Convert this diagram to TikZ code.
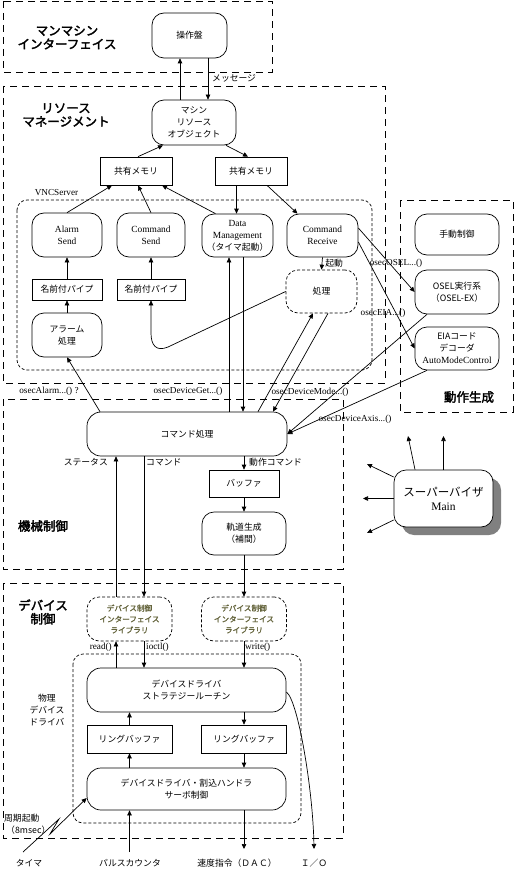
\documentclass[tikz,border=0pt]{standalone}
\usepackage{fontspec}
\setmainfont{Liberation Serif}
\newfontfamily\jp{Noto Sans CJK JP}
\newfontfamily\jpb[FakeBold=1.5]{Noto Sans CJK JP}
\newfontfamily\jpbb[FakeBold=2.5]{Noto Sans CJK JP}
\usetikzlibrary{arrows.meta,shadows}
\definecolor{libtxt}{RGB}{100,100,60}
\definecolor{shadowgray}{RGB}{128,128,128}
\begin{document}
\begin{tikzpicture}[x=1pt,y=-1pt,
  wh/.style 2 args={minimum width=#1,minimum height=#2},
  base/.style={font=\fontsize{9.4}{12}\selectfont,align=center,inner sep=0pt},
  j/.style={font=\jp\fontsize{8.8}{12}\selectfont},
  lib/.style={font=\jpb\fontsize{7.6}{11}\selectfont,text=libtxt},
  rbox/.style={base,draw,rounded corners=12pt,line width=0.7pt},
  sbox/.style={base,draw,line width=0.7pt},
  dbox/.style={base,draw,rounded corners=12pt,dash pattern=on 3pt off 2pt,line width=0.7pt},
  region/.style={draw,line width=0.8pt,dash pattern=on 7pt off 5pt},
  iregion/.style={draw,line width=0.7pt,dash pattern=on 3pt off 2pt,rounded corners=10pt},
  conn/.style={line width=0.7pt,-{Triangle[length=5pt,width=4.5pt]}},
  lbl/.style={font=\fontsize{9.2}{11}\selectfont,inner sep=0pt},
  title/.style={font=\jpbb\fontsize{12.5}{13.5}\selectfont,align=center,inner sep=0pt}]
\useasboundingbox (0,0) rectangle (515,869);

% regions
\draw[region] (3,1) rectangle (272,72);
\draw[region] (3,86) rectangle (385,383);
\draw[iregion] (17,200) rectangle (372,370);
\draw[region] (400,200) rectangle (513,412);
\draw[region] (3,399) rectangle (343,569);
\draw[region] (3,583) rectangle (343,838);
\draw[iregion] (73,654) rectangle (301,823);

% titles
\node[title] (t1) at (67,37.5) {マンマシン\\インターフェイス};
\node[title] (t2) at (66,115) {リソース\\マネージメント};
\node[title] (t3) at (469,397) {動作生成};
\node[title] (t4) at (43,526) {機械制御};
\node[title] (t5) at (43,612) {デバイス\\制御};
\node[lbl,align=center,font=\jp\fontsize{8.8}{12}\selectfont] (t6) at (47,710) {物理\\デバイス\\ドライバ};

% nodes
\node[rbox,j,wh={75pt}{45pt}] (sousa) at (189.5,35.5) {操作盤};
\node[rbox,j,wh={84pt}{45pt}] (mro) at (194,122.5) {マシン\\リソース\\オブジェクト};
\node[sbox,j,wh={72pt}{28pt}] (mem1) at (136,171) {共有メモリ};
\node[sbox,j,wh={72pt}{28pt}] (mem2) at (251,171) {共有メモリ};
\node[rbox,wh={70pt}{44pt}] (asend) at (67,235) {Alarm\\Send};
\node[rbox,wh={68pt}{44pt}] (csend) at (151,235) {Command\\Send};
\node[rbox,wh={71pt}{43pt}] (dm) at (237.5,235.5) {Data\\Management\\{\jp\fontsize{8.8}{12}\selectfont （タイマ起動）}};
\node[rbox,wh={71pt}{43pt}] (crecv) at (322.5,235.5) {Command\\Receive};
\node[sbox,j,wh={70pt}{21pt}] (pipe1) at (67,289.5) {名前付パイプ};
\node[sbox,j,wh={68pt}{21pt}] (pipe2) at (151,289.5) {名前付パイプ};
\node[rbox,j,wh={70pt}{44pt}] (alarm) at (67,335) {アラーム\\処理};
\node[dbox,j,wh={71pt}{43pt}] (shori) at (321.5,291.5) {処理};
\node[rbox,j,wh={84pt}{41pt}] (manual) at (457,234.5) {手動制御};
\node[rbox,j,wh={84pt}{44pt}] (osel) at (457,292) {OSEL実行系\\（OSEL-EX）};
\node[rbox,wh={84pt}{43pt}] (eia) at (457,348.5) {{\jp\fontsize{8.8}{12}\selectfont EIAコード}\\{\jp\fontsize{8.8}{12}\selectfont デコーダ}\\AutoModeControl};
\node[rbox,j,wh={200pt}{44pt},rounded corners=14pt] (cmd) at (187,434) {コマンド処理};
\node[sbox,j,wh={70pt}{27pt}] (buf) at (244,483.5) {バッファ};
\node[rbox,j,wh={84pt}{43pt}] (traj) at (244,533.5) {軌道生成\\（補間）};
\node[dbox,lib,wh={85pt}{44pt}] (lib1) at (129.5,619) {デバイス制御\\インターフェイス\\ライブラリ};
\node[dbox,lib,wh={85pt}{44pt}] (lib2) at (244,619) {デバイス制御\\インターフェイス\\ライブラリ};
\node[rbox,j,wh={199pt}{44pt},rounded corners=14pt] (strat) at (186.5,690) {デバイスドライバ\\ストラテジールーチン};
\node[sbox,j,wh={85pt}{28pt}] (ring1) at (129.5,739) {リングバッファ};
\node[sbox,j,wh={85pt}{28pt}] (ring2) at (244,739) {リングバッファ};
\node[rbox,j,wh={199pt}{42pt},rounded corners=14pt] (handler) at (186.5,789) {デバイスドライバ・割込ハンドラ\\サーボ制御};
\node[rbox,fill=white,wh={99pt}{57pt},font=\fontsize{11.5}{14}\selectfont,
  drop shadow={shadow xshift=8pt,shadow yshift=-8pt,fill=shadowgray,opacity=1}] (sup) at (443.5,498.5) {{\jp スーパーバイザ}\\Main};

% labels
\node[lbl,j,anchor=west] (msg) at (212,78) {メッセージ};
\node[lbl] (vnc) at (56.5,193) {VNCServer};
\node[lbl] (l1) at (49,391) {osecAlarm...() ?};
\node[lbl] (l2) at (188,391) {osecDeviceGet...()};
\node[lbl] (l3) at (310,392) {osecDeviceMode...()};
\node[lbl] (l4) at (355,419) {osecDeviceAxis...()};
\node[lbl] (l5) at (396,263) {osecOSEL...()};
\node[lbl] (l6) at (383,313) {osecEIA...()};
\node[lbl,j,anchor=east] (st) at (108,462) {ステータス};
\node[lbl,j,anchor=west] (cm) at (146,462) {コマンド};
\node[lbl,j,anchor=west] (mc) at (249,462) {動作コマンド};
\node[lbl,anchor=east] (rd) at (112,647) {read()};
\node[lbl,anchor=west] (io1) at (146,647) {ioctl()};
\node[lbl,anchor=west] (wr) at (245,647) {write()};
\node[lbl,j,anchor=west] (cyc) at (4,818) {周期起動};
\node[lbl,j,anchor=west] (ms) at (6,830) {（8msec）};
\node[lbl,j] (timer) at (29,863) {タイマ};
\node[lbl,j] (pulse) at (130,863) {パルスカウンタ};
\node[lbl,j] (dac) at (237,863) {速度指令（ＤＡＣ）};
\node[lbl,j] (io) at (314,863) {Ｉ／Ｏ};

\coordinate (pulsestart) at (129.5,852);
\coordinate (dacend) at (244,849);
\coordinate (ioend) at (314,849);
\coordinate (timerstart) at (23,852);
\coordinate (s1) at (408,436);
\coordinate (s2) at (443.5,436);
\coordinate (s3) at (367,464);
\coordinate (s4) at (363,498.5);
\coordinate (s5) at (367,533);

% connectors
\draw[conn] ([xshift=-14pt]mro.north) -- ([xshift=-9.5pt]sousa.south);
\draw[conn] ([xshift=18.5pt]sousa.south) -- ([xshift=14pt]mro.north);
\draw[conn] ([xshift=2pt]mem1.north) -- ([xshift=-31pt]mro.south);
\draw[conn] ([xshift=32pt]mro.south) -- ([xshift=-3pt]mem2.north);
\draw[conn] (asend.north) -- ([xshift=-24pt]mem1.south);
\draw[conn] (csend.north) -- ([xshift=2pt]mem1.south);
\draw[conn] ([xshift=-22pt]dm.north) -- ([xshift=26pt]mem1.south);
\draw[conn] ([xshift=-14.5pt]mem2.south) -- ([xshift=-1pt]dm.north);
\draw[conn] ([xshift=16pt]mem2.south) -- ([xshift=-25pt]crecv.north);
\draw[conn] (crecv.south) -- node[lbl,j,right=3pt]{起動} (shori.north);
\draw[conn] (pipe1.north) -- (asend.south);
\draw[conn] (alarm.north) -- (pipe1.south);
\draw[conn] (pipe2.north) -- (csend.south);
\draw[conn] (shori.west) -- (168,347) .. controls (156,352) and (151,345) .. (151,333) -- (pipe2.south);
\draw[conn] ([xshift=-87pt]cmd.north) -- (alarm.south);
\draw[conn] ([xshift=42pt]cmd.north) -- ([xshift=-8.5pt]dm.south);
\draw[conn] ([xshift=5.5pt]dm.south) -- ([xshift=56pt]cmd.north);
\draw[conn] ([xshift=71pt]cmd.north) -- ([xshift=-8.5pt]shori.south);
\draw[conn] ([xshift=6.5pt]shori.south) -- ([xshift=86pt]cmd.north);
\draw[conn] ([yshift=7.5pt]crecv.east) -- (osel.west);
\draw[conn] ([yshift=-6.5pt]crecv.east) -- (eia.west);
\draw[conn] ([xshift=-30pt]osel.south) -- (cmd.east);
\draw[conn] ([xshift=-30pt]eia.south) -- (cmd.east);

\draw[conn] ([xshift=-13.5pt]lib1.north) -- ([xshift=-71pt]cmd.south);
\draw[conn] ([xshift=-43pt]cmd.south) -- ([xshift=14.5pt]lib1.north);
\draw[conn] ([xshift=-70.5pt]strat.north) -- ([xshift=-13.5pt]lib1.south);
\draw[conn] ([xshift=14.5pt]lib1.south) -- ([xshift=-42.5pt]strat.north);
\draw[conn] ([xshift=57pt]cmd.south) -- (buf.north);
\draw[conn] (buf.south) -- (traj.north);
\draw[conn] (traj.south) -- (lib2.north);
\draw[conn] (lib2.south) -- ([xshift=57.5pt]strat.north);
\draw[conn] ([xshift=57.5pt]strat.south) -- (ring2.north);
\draw[conn] (ring2.south) -- ([xshift=57.5pt]handler.north);
\draw[conn] ([xshift=-57pt]handler.north) -- (ring1.south);
\draw[conn] (ring1.north) -- ([xshift=-57pt]strat.south);
\draw[conn] (pulsestart) -- ([xshift=-57pt]handler.south);
\draw[conn] ([xshift=57.5pt]handler.south) -- (dacend);
\draw[conn] ([yshift=-2pt]strat.east) .. controls (298,700) and (313,790) .. (ioend);
\draw[conn] (timerstart) -- (59,819) -- (50,834) -- ([yshift=-9pt]handler.west);

\draw[conn] ([xshift=-28.5pt]sup.north) -- (s1);
\draw[conn] (sup.north) -- (s2);
\draw[conn] ([yshift=21.5pt]sup.west) -- (s3);
\draw[conn] (sup.west) -- (s4);
\draw[conn] ([yshift=-21.5pt]sup.west) -- (s5);
\end{tikzpicture}
\end{document}
